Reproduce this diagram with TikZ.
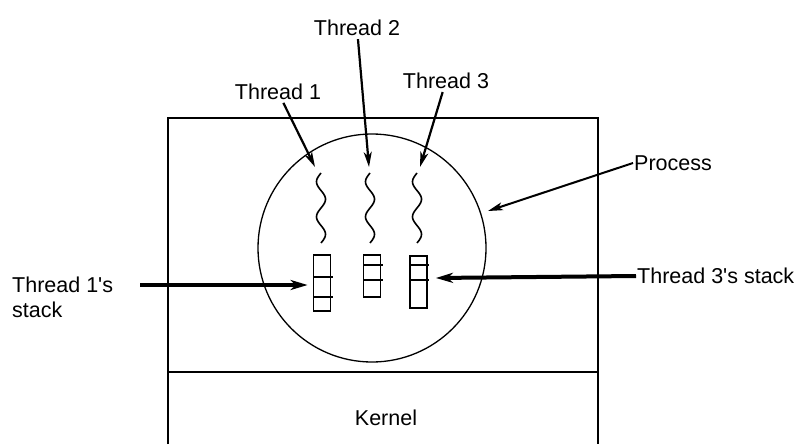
\documentclass[tikz,border=0pt]{standalone}
\usepackage{fontspec}
\setmainfont{Liberation Sans}
\usetikzlibrary{arrows.meta}
\usetikzlibrary{positioning}

\begin{document}
\begin{tikzpicture}[x=1pt,y=-1pt,
  lbl/.style={font=\fontsize{21.5}{25}\selectfont,inner sep=1pt,name=#1},
  stk/.style={draw,line width=1.8pt,minimum width=17pt,inner sep=0pt,name=#1},
  ptr/.style={line width=2.2pt,-{Stealth[length=15pt,width=8pt,inset=4pt]}},
  fat/.style={line width=4pt,-{Stealth[length=17pt,width=10pt,inset=5pt]}}]
\useasboundingbox (0,0) rectangle (799,444);
\draw[line width=2.2pt] (168,444) -- (168,118) -- (598,118) -- (598,444);
\draw[line width=2pt] (168,372) -- (598,372);
\draw[line width=1.3pt] (372,248) circle (114);

% threads
\foreach \cx in {321,370,417}
  \draw[line width=1.6pt] plot[domain=0:1,samples=50,smooth] ({\cx+4.5*sin(-720*\x)},{173+70*\x});
\coordinate (t1) at (315,167);
\coordinate (t2) at (369,167);
\coordinate (t3) at (420,167);

% stacks
\node[stk=s1,minimum height=56pt] at (322,283) {};
\node[stk=s2,minimum height=42pt] at (372,276) {};
\node[stk=s3,minimum height=52pt] at (418.5,282) {};
\draw[line width=1.8pt] (313,277) -- (333,277) (313,297) -- (333,297);
\draw[line width=1.8pt] (363,265) -- (383,265) (363,280) -- (383,280);
\draw[line width=1.8pt] (410,265) -- (429,265) (410,280) -- (429,280);

\node[lbl=l1] at (278,92) {Thread 1};
\node[lbl=l2] at (357,28) {Thread 2};
\node[lbl=l3] at (446,81) {Thread 3};
\node[lbl=lp,anchor=west] at (633,163) {Process};
\node[lbl=ls1,anchor=west,align=left] at (11,297) {Thread 1\textquotesingle s\\stack};
\node[lbl=ls3,anchor=west] at (636,276) {Thread 3\textquotesingle s stack};
\node[lbl=lk] at (386,418) {Kernel};
\coordinate (pc) at (488,211);
\coordinate (a1) at (140,285);

\draw[ptr,shorten <=2pt] (l1) -- (t1);
\draw[ptr,shorten <=2pt] (l2) -- (t2);
\draw[ptr,shorten <=2pt] (l3) -- (t3);
\draw[ptr,line width=2pt] (lp.west) -- (pc);
\draw[fat] (a1) -- ([xshift=-5pt]s1.west |- a1);
\draw[fat] (ls3.west) -- ([xshift=8pt]s3.east |- 0,278);
\end{tikzpicture}
\end{document}
